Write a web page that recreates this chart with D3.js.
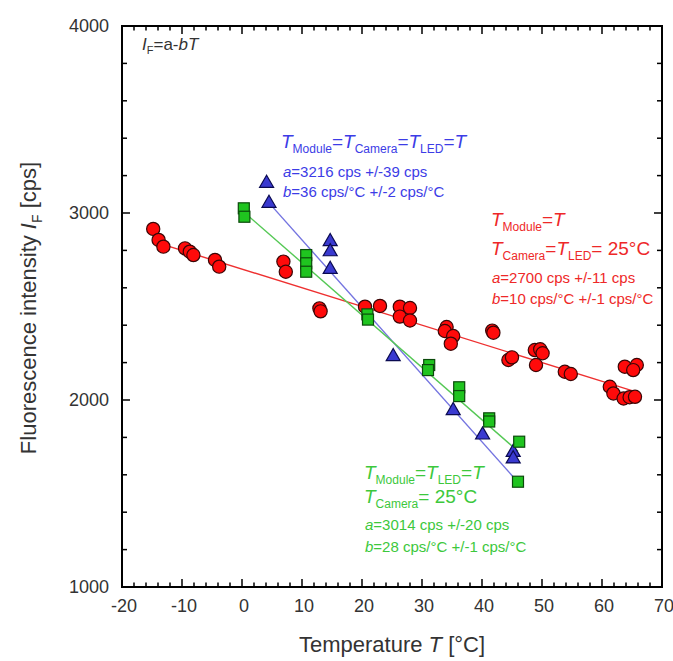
<!DOCTYPE html>
<html>
<head>
<meta charset="utf-8">
<script src="https://cdn.jsdelivr.net/npm/d3@7"></script>
<style>
  body { margin: 0; background: #fff; }
  text { font-family: "Liberation Sans", Arial, sans-serif; }
</style>
</head>
<body>
<div id="container"></div>
<script>
// T_Module = T (camera and LED at 25 °C)
const redPoints = [
  [-14.8, 2915], [-13.9, 2856], [-13.1, 2820], [-9.5, 2811], [-8.7, 2793], [-8.1, 2775],
  [-4.5, 2749], [-3.8, 2713], [6.9, 2740], [7.3, 2686], [12.9, 2490], [13.1, 2474],
  [20.5, 2499], [23, 2503], [26.3, 2499], [28, 2492], [26.3, 2446], [28, 2425],
  [34.1, 2390], [33.8, 2369], [35.2, 2342], [34.8, 2301], [41.7, 2371], [41.9, 2360],
  [44.4, 2214], [45, 2228], [48.8, 2267], [49.7, 2271], [50.1, 2250], [49, 2187],
  [53.8, 2151], [54.8, 2139], [61.3, 2071], [61.9, 2035], [63.6, 2008], [64.6, 2015],
  [65.5, 2017], [63.8, 2178], [65.8, 2187], [65.2, 2160]
];
// T_Module = T_Camera = T_LED = T
const bluePoints = [
  [4.1, 3159], [4.5, 3052], [14.7, 2847], [14.7, 2793], [14.7, 2699], [25.2, 2232],
  [35.2, 1943], [40.1, 1813], [45.2, 1720], [45.2, 1685]
];
// T_Module = T_LED = T, T_Camera = 25 °C
const greenPoints = [
  [0.3, 3025], [0.4, 2980], [10.7, 2775], [10.7, 2731], [10.7, 2686], [20.9, 2458],
  [21, 2430], [31.2, 2187], [31, 2160], [36.2, 2068], [36.2, 2021], [41.2, 1902],
  [41.2, 1885], [46.2, 1777], [46, 1563]
];
// linear fits I = a - b*T
const fitA = [2700, 3216, 3014];
const fitB = [10, 36, 28];
const fitRange = [[-15, 65], [4.5, 45.5], [0.3, 46]];

const xTicks = [-20, -10, 0, 10, 20, 30, 40, 50, 60, 70];
const yTicks = [1000, 2000, 3000, 4000];

const width = 673, height = 661;
const margins = { top: 26, bottom: 74, left: 122, right: 11 };

const svg = d3.select("#container").append("svg")
  .attr("width", width).attr("height", height);

const xScale = d3.scaleLinear().domain([-20, 70])
  .range([margins.left, width - margins.right]);
const yScale = d3.scaleLinear().domain([1000, 4000])
  .range([height - margins.bottom, margins.top]);

const x0 = xScale.range()[0], x1 = xScale.range()[1];
const y0 = yScale.range()[0], y1 = yScale.range()[1];

// ticks on all four sides, pointing inwards
const xMinor = d3.range(-20, 70.01, 2);
const yMinor = d3.range(1000, 4000.01, 200);
const tickG = svg.append("g").attr("stroke", "#000").attr("stroke-width", 1.5);
xMinor.forEach(v => {
  const len = (v % 10 === 0) ? 8 : 4.5;
  tickG.append("line").attr("x1", xScale(v)).attr("x2", xScale(v)).attr("y1", y0).attr("y2", y0 - len);
  tickG.append("line").attr("x1", xScale(v)).attr("x2", xScale(v)).attr("y1", y1).attr("y2", y1 + len);
});
yMinor.forEach(v => {
  const len = (v % 1000 === 0) ? 8 : 5;
  tickG.append("line").attr("y1", yScale(v)).attr("y2", yScale(v)).attr("x1", x0).attr("x2", x0 + len);
  tickG.append("line").attr("y1", yScale(v)).attr("y2", yScale(v)).attr("x1", x1).attr("x2", x1 - len);
});

// tick labels
svg.append("g").selectAll("text").data(xTicks).enter().append("text")
  .attr("x", d => xScale(d) + 2).attr("y", y0 + 25)
  .attr("text-anchor", "middle").style("font-size", "18px").attr("fill", "#333")
  .text(d => d);
svg.append("g").selectAll("text").data(yTicks).enter().append("text")
  .attr("x", x0 - 13).attr("y", d => yScale(d) + 6)
  .attr("text-anchor", "end").style("font-size", "18px").attr("fill", "#333")
  .text(d => d);

// rich text helper: parts [text, style, size] with style i = italic, s = subscript
function richText(x, y, size, color, parts) {
  const t = svg.append("text").attr("x", x).attr("y", y)
    .attr("fill", color).style("font-size", size + "px");
  let inSub = false;
  parts.forEach(p => {
    const st = p[1] || "";
    const sub = st.includes("s");
    const ts = t.append("tspan").text(p[0]);
    if (st.includes("i")) ts.style("font-style", "italic");
    if (sub) ts.style("font-size", (p[2] || size * 0.68) + "px");
    else if (p[2]) ts.style("font-size", p[2] + "px");
    if (sub && !inSub) ts.attr("dy", size * 0.26);
    if (!sub && inSub) ts.attr("dy", -size * 0.26);
    inSub = sub;
  });
  return t;
}

// axis titles
svg.append("text")
  .attr("transform", `translate(36, 308) rotate(-90)`)
  .attr("text-anchor", "middle").attr("fill", "#333").style("font-size", "22px")
  .call(t => {
    t.append("tspan").text("Fluorescence intensity ");
    t.append("tspan").text("I").style("font-style", "italic");
    t.append("tspan").text("F").style("font-size", "14px").attr("dy", 6);
    t.append("tspan").text(" [cps]").attr("dy", -6);
  });
svg.append("text")
  .attr("x", (x0 + x1) / 2).attr("y", 652)
  .attr("text-anchor", "middle").attr("fill", "#333").style("font-size", "22px")
  .call(t => {
    t.append("tspan").text("Temperature ");
    t.append("tspan").text("T").style("font-style", "italic");
    t.append("tspan").text(" [°C]");
  });

// fit lines
const fitColors = ["#ee3030", "#7474e0", "#55c855"];
fitA.forEach((a, k) => {
  const seg = fitRange[k].map(T => [T, a - fitB[k] * T]);
  svg.append("path")
    .datum(seg)
    .attr("d", d3.line().x(d => xScale(d[0])).y(d => yScale(d[1])))
    .attr("fill", "none").attr("stroke", fitColors[k]).attr("stroke-width", 1.4);
});

// markers
svg.append("g").selectAll("circle").data(redPoints).enter().append("circle")
  .attr("cx", d => xScale(d[0])).attr("cy", d => yScale(d[1])).attr("r", 6.6)
  .attr("fill", "#ff0a0a").attr("stroke", "#3a0606").attr("stroke-width", 1.2);

const tri = d3.symbol().type(d3.symbolTriangle).size(85);
svg.append("g").selectAll("path").data(bluePoints).enter().append("path")
  .attr("d", tri)
  .attr("transform", d => `translate(${xScale(d[0])},${yScale(d[1])})`)
  .attr("fill", "#3a3ad0").attr("stroke", "#0a0a50").attr("stroke-width", 1.2);

svg.append("g").selectAll("rect").data(greenPoints).enter().append("rect")
  .attr("x", d => xScale(d[0]) - 5.5).attr("y", d => yScale(d[1]) - 5.5)
  .attr("width", 11).attr("height", 11)
  .attr("fill", "#1fc41f").attr("stroke", "#0b4a0b").attr("stroke-width", 1.2);

// frame
svg.append("rect")
  .attr("x", x0).attr("y", y1).attr("width", x1 - x0).attr("height", y0 - y1)
  .attr("fill", "none").attr("stroke", "#000").attr("stroke-width", 2);

// annotations
richText(142, 50, 17, "#333", [["I", "i"], ["F", "s", 11], ["=a-"], ["b", "i"], ["T", "i"]]);

const blue = "#3c3ce6";
richText(281, 148, 19, blue, [["T", "i"], ["Module", "s", 12], ["="], ["T", "i"], ["Camera", "s", 12], ["="], ["T", "i"], ["LED", "s", 12], ["="], ["T", "i"]]);
richText(283, 177, 15, blue, [["a", "i"], ["=3216 cps +/-39 cps"]]);
richText(283, 197, 15, blue, [["b", "i"], ["=36 cps/°C +/-2 cps/°C"]]);

const red = "#ee2828";
richText(491, 226, 19, red, [["T", "i"], ["Module", "s", 12], ["="], ["T", "i"]]);
richText(491, 255, 19, red, [["T", "i"], ["Camera", "s", 12], ["="], ["T", "i"], ["LED", "s", 12], ["= 25°C"]]);
richText(492, 283, 15, red, [["a", "i"], ["=2700 cps +/-11 cps"]]);
richText(492, 304, 15, red, [["b", "i"], ["=10 cps/°C +/-1 cps/°C"]]);

const green = "#3cc83c";
richText(364, 479, 19, green, [["T", "i"], ["Module", "s", 12], ["="], ["T", "i"], ["LED", "s", 12], ["="], ["T", "i"]]);
richText(364, 503, 19, green, [["T", "i"], ["Camera", "s", 12], ["= 25°C"]]);
richText(365, 530, 15, green, [["a", "i"], ["=3014 cps +/-20 cps"]]);
richText(365, 552, 15, green, [["b", "i"], ["=28 cps/°C +/-1 cps/°C"]]);
</script>
</body>
</html>
